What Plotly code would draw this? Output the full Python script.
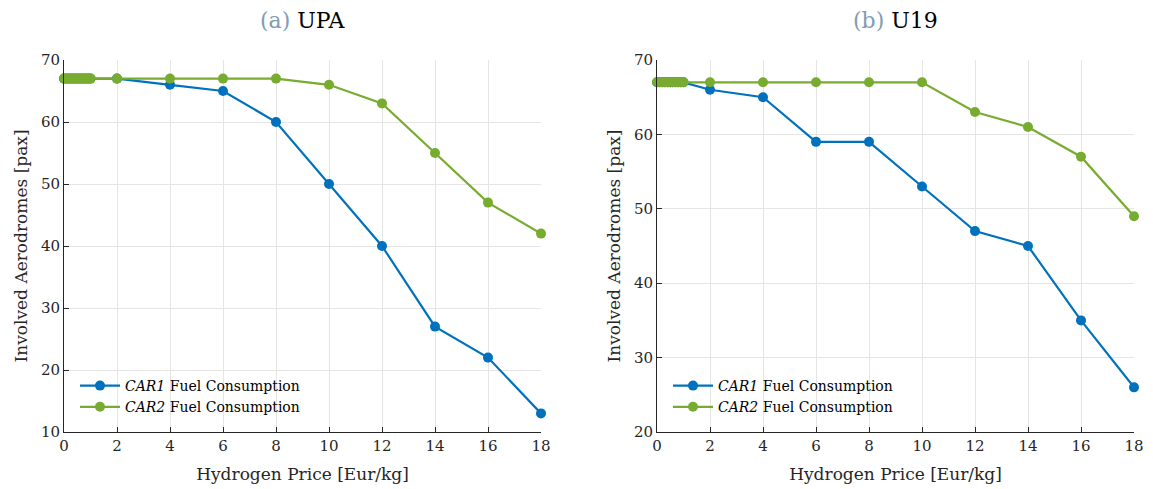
import plotly.graph_objects as go

price = [0, 0.1, 0.2, 0.3, 0.4, 0.5, 0.6, 0.7, 0.8, 0.9, 1.0, 2, 4, 6, 8, 10, 12, 14, 16, 18]
upa_car1 = [67]*11 + [67, 66, 65, 60, 50, 40, 27, 22, 13]
upa_car2 = [67]*11 + [67, 67, 67, 67, 66, 63, 55, 47, 42]
u19_car1 = [67]*11 + [66, 65, 59, 59, 53, 47, 45, 35, 26]
u19_car2 = [67]*11 + [67, 67, 67, 67, 67, 63, 61, 57, 49]
x_ticks = list(range(0, 19, 2))
names = ["<i>CAR1</i> Fuel Consumption", "<i>CAR2</i> Fuel Consumption"]

BLUE = "#0072BD"
GREEN = "#77AC30"
FONT = "DejaVu Serif, Liberation Serif, serif"

fig = go.Figure()
W, H = 1153, 489
xd1 = [64 / W, 541 / W]
xd2 = [657 / W, 1134 / W]
yd = [1 - 432 / H, 1 - 60 / H]

def add(x, y, color, name, xa, ya, leg):
    fig.add_trace(go.Scatter(x=x, y=y, mode="lines+markers", name=name,
                             line=dict(color=color, width=2.2),
                             marker=dict(color=color, size=10),
                             xaxis=xa, yaxis=ya, legend=leg, cliponaxis=False))

add(price, upa_car1, BLUE, names[0], "x", "y", "legend")
add(price, upa_car2, GREEN, names[1], "x", "y", "legend")
add(price, u19_car1, BLUE, names[0], "x2", "y2", "legend2")
add(price, u19_car2, GREEN, names[1], "x2", "y2", "legend2")

axis_common = dict(showline=True, linecolor="#262626", linewidth=1, ticks="inside",
                   ticklen=5, tickcolor="#262626", showgrid=True, gridcolor="#e5e5e5",
                   gridwidth=1, zeroline=False, mirror=False, automargin=False,
                   tickfont=dict(family=FONT, size=15, color="#262626"))

fig.update_layout(
    autosize=True, margin=dict(l=0, r=0, t=0, b=0),
    paper_bgcolor="white", plot_bgcolor="white",
    font=dict(family=FONT, color="#262626"),
    xaxis=dict(domain=xd1, range=[0, 18], tickvals=x_ticks, anchor="y",
               title=dict(text="Hydrogen Price [Eur/kg]", font=dict(size=17), standoff=14), **axis_common),
    yaxis=dict(domain=yd, range=[10, 70], dtick=10, anchor="x",
               title=dict(text="Involved Aerodromes [pax]", font=dict(size=17), standoff=8), **axis_common),
    xaxis2=dict(domain=xd2, range=[0, 18], tickvals=x_ticks, anchor="y2",
                title=dict(text="Hydrogen Price [Eur/kg]", font=dict(size=17), standoff=14), **axis_common),
    yaxis2=dict(domain=yd, range=[20, 70], dtick=10, anchor="x2",
                title=dict(text="Involved Aerodromes [pax]", font=dict(size=17), standoff=8), **axis_common),
    legend=dict(x=75 / W, y=1 - 370 / H, xanchor="left", yanchor="top",
                bgcolor="rgba(255,255,255,0)", font=dict(family=FONT, size=14, color="#000"),
                tracegroupgap=0, itemwidth=40),
    legend2=dict(x=668 / W, y=1 - 370 / H, xanchor="left", yanchor="top",
                 bgcolor="rgba(255,255,255,0)", font=dict(family=FONT, size=14, color="#000"),
                 tracegroupgap=0, itemwidth=40),
    annotations=[
        dict(text="<span style='color:#7f9cb5'>(a)</span> UPA", x=(xd1[0] + xd1[1]) / 2, y=1 - 20 / H,
             xref="paper", yref="paper", xanchor="center", yanchor="middle", showarrow=False,
             font=dict(family=FONT, size=22, color="#000")),
        dict(text="<span style='color:#7f9cb5'>(b)</span> U19", x=(xd2[0] + xd2[1]) / 2, y=1 - 20 / H,
             xref="paper", yref="paper", xanchor="center", yanchor="middle", showarrow=False,
             font=dict(family=FONT, size=22, color="#000")),
    ],
)

fig.write_html("out.html", config={"responsive": True})
